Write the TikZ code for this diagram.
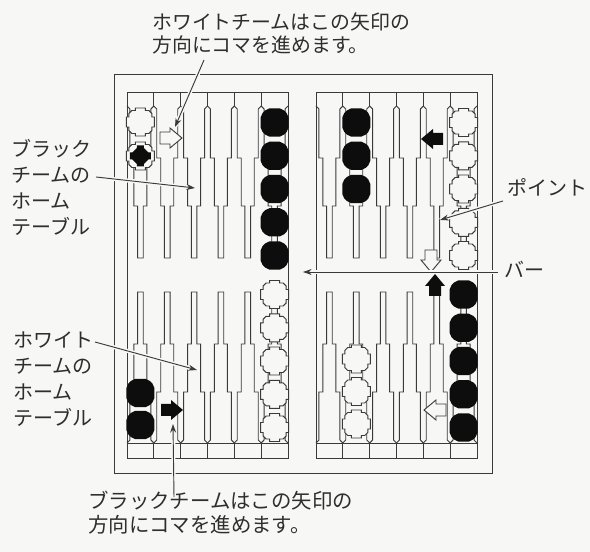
\documentclass[tikz,border=0pt]{standalone}
\usepackage{fontspec}
\newfontfamily\jp{Noto Sans CJK JP}
\usetikzlibrary{arrows.meta}
\definecolor{bg}{HTML}{F7F7F5}
\definecolor{ink}{HTML}{3A3A3A}
\definecolor{txt}{HTML}{2E2E2E}
\definecolor{blk}{HTML}{0D0D0D}
\tikzset{
  board/.style={draw=ink, line width=0.7pt},
  frame/.style={draw=ink, line width=0.75pt},
  lbl/.style={font=\jp\fontsize{15}{19.5}\selectfont, text=txt, align=left, inner sep=0pt, anchor=north west},
  leader/.style={draw=ink, line width=0.7pt, -{Stealth[length=6.5pt,width=4.5pt]},
                 preaction={draw=bg, line width=3pt, arrows=-}},
  wchk/.pic={\filldraw[fill=bg, draw=ink, line width=0.7pt]
     (-5,-14) -- (5,-14) -- (5,-11.5) -- (8.5,-11.5) -- (11.5,-8.5) -- (11.5,-5) -- (14,-5) -- (14,5) -- (11.5,5) -- (11.5,8.5)
     -- (8.5,11.5) -- (5,11.5) -- (5,14) -- (-5,14) -- (-5,11.5) -- (-8.5,11.5) -- (-11.5,8.5) -- (-11.5,5) -- (-14,5)
     -- (-14,-5) -- (-11.5,-5) -- (-11.5,-8.5) -- (-8.5,-11.5) -- (-5,-11.5) -- cycle;},
  bchk/.pic={\fill[blk]
     (-5,-14.2) -- (5,-14.2) -- (9.5,-12) -- (12,-9.5) -- (14,-5) -- (14,5) -- (12,9.5) -- (9.5,12) -- (5,14.2)
     -- (-5,14.2) -- (-9.5,12) -- (-12,9.5) -- (-14,5) -- (-14,-5) -- (-12,-9.5) -- (-9.5,-12) -- cycle;},
  xchk/.pic={\filldraw[fill=bg, draw=ink, line width=0.7pt]
     (-5,-14) -- (5,-14) -- (5,-11.5) -- (8.5,-11.5) -- (11.5,-8.5) -- (11.5,-5) -- (14,-5) -- (14,5) -- (11.5,5) -- (11.5,8.5)
     -- (8.5,11.5) -- (5,11.5) -- (5,14) -- (-5,14) -- (-5,11.5) -- (-8.5,11.5) -- (-11.5,8.5) -- (-11.5,5) -- (-14,5)
     -- (-14,-5) -- (-11.5,-5) -- (-11.5,-8.5) -- (-8.5,-11.5) -- (-5,-11.5) -- cycle;
     \fill[blk] (-3.5,-10.5) -- (3.5,-10.5) -- (3.5,-8) -- (8,-3.5) -- (10.5,-3.5) -- (10.5,3.5) -- (8,3.5) -- (3.5,8)
     -- (3.5,10.5) -- (-3.5,10.5) -- (-3.5,8) -- (-8,3.5) -- (-10.5,3.5) -- (-10.5,-3.5) -- (-8,-3.5) -- (-3.5,-8) -- cycle;},
  warr/.pic={\filldraw[fill=bg, draw=ink, line width=0.7pt]
     (-11,-6) -- (-1,-6) -- (-1,-10) -- (11,0) -- (-1,10) -- (-1,6) -- (-11,6) -- cycle;},
  barr/.pic={\fill[blk]
     (-11,-6) -- (-1,-6) -- (-1,-10) -- (11,0) -- (-1,10) -- (-1,6) -- (-11,6) -- cycle;},
}
\begin{document}
\begin{tikzpicture}[x=0.75pt, y=-0.75pt]
\useasboundingbox[fill=bg] (0,0) rectangle (590,552);

% frame and board halves
\draw[frame] (114,75) rectangle (492,474);
\draw[board] (127,92) rectangle (288,458);
\draw[board] (316,92) rectangle (477,458);

% points
\foreach \xa in {127,316} {
  \draw[board] (\xa,443) -- (\xa+161,443);
  \foreach \k in {1,...,5} {
    \draw[board] (\xa+26.833*\k,92) -- (\xa+26.833*\k,106);
    \draw[board] (\xa+26.833*\k,443) -- (\xa+26.833*\k,458);
  }
  \foreach \k in {0,...,5} {
    \pgfmathsetmacro\c{\xa+26.833*(\k+0.5)}
    \pgfmathsetmacro\dl{\xa+26.833*\k}
    \pgfmathsetmacro\dr{\xa+26.833*(\k+1)}
    \draw[board] (\dl,106) -- (\c-10.5,109) -- (\c-10.5,158) -- (\c-6.5,158) -- (\c-6.5,206) -- (\c-2.8,206) -- (\c-2.8,258)
       -- (\c+2.8,258) -- (\c+2.8,206) -- (\c+6.5,206) -- (\c+6.5,158) -- (\c+10.5,158) -- (\c+10.5,109) -- (\dr,106);
    \draw[board] (\dl,443) -- (\c-10.5,440) -- (\c-10.5,392) -- (\c-6.5,392) -- (\c-6.5,344) -- (\c-2.8,344) -- (\c-2.8,292)
       -- (\c+2.8,292) -- (\c+2.8,344) -- (\c+6.5,344) -- (\c+6.5,392) -- (\c+10.5,392) -- (\c+10.5,440) -- (\dr,443);
  }
}

% checkers upper left
\pic at (140.4,122) {wchk};
\pic at (140.4,156) {xchk};
\foreach \y in {122.5,155.8,189,222.3,255.5} { \pic at (274.6,\y) {bchk}; }
% lower left
\foreach \y in {294.5,327.8,361,394.3,427.5} { \pic at (274.6,\y) {wchk}; }
\foreach \y in {393,425} { \pic at (140.4,\y) {bchk}; }
% upper right
\foreach \y in {122.5,155.8,189} { \pic at (356.3,\y) {bchk}; }
\foreach \y in {122.5,155.8,189,222.3,255.5} { \pic at (463.6,\y) {wchk}; }
% lower right
\foreach \y in {294.5,327.8,361,394.3,427.5} { \pic at (463.6,\y) {bchk}; }
\foreach \y in {359,391.5,424} { \pic at (356.3,\y) {wchk}; }

% direction arrows
\pic at (171,138) {warr};
\pic[rotate=180] at (432,139) {barr};
\pic[rotate=-90] at (431,261) {warr};
\pic[rotate=90] at (435,285) {barr};
\pic[rotate=180] at (435,410) {warr};
\pic at (172,410) {barr};

% labels
\node[lbl, font=\jp\fontsize{14.9}{17.3}\selectfont] (wtxt) at (152,12) {ホワイトチームはこの矢印の\\方向にコマを進めます。};
\node[lbl, font=\jp\fontsize{15.3}{17.8}\selectfont] (btxt) at (88,491) {ブラックチームはこの矢印の\\方向にコマを進めます。};
\node[lbl] (bhome) at (11,139) {ブラック\\チームの\\ホーム\\テーブル};
\node[lbl] (whome) at (13,332) {ホワイト\\チームの\\ホーム\\テーブル};
\node[lbl] (pt) at (507,178) {ポイント};
\node[lbl] (bar) at (504,261) {バー};

% leader coordinates
\coordinate (wtxtL) at (204,60);
\coordinate (wtip) at (175,127);
\coordinate (btxtL) at (174,497);
\coordinate (btip) at (173,424);
\coordinate (bhomeL) at (96,177);
\coordinate (bhtip) at (195,188);
\coordinate (whomeL) at (95,342);
\coordinate (whtip) at (197,370);
\coordinate (ptL) at (503,201);
\coordinate (pttip) at (440,220);
\coordinate (barL) at (498,272);
\coordinate (bartip) at (303,272);

\draw[leader] (wtxtL) -- (wtip);
\draw[leader] (btxtL) -- (btip);
\draw[leader] (bhomeL) -- (bhtip);
\draw[leader] (whomeL) -- (whtip);
\draw[leader] (ptL) -- (pttip);
\draw[leader] (barL) -- (bartip);
\end{tikzpicture}
\end{document}
